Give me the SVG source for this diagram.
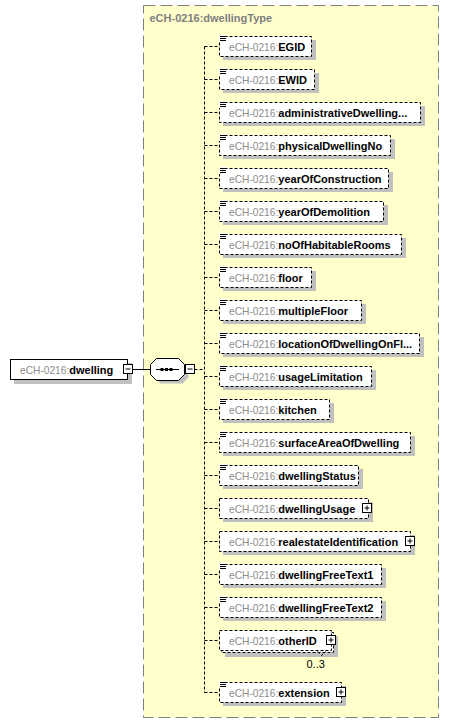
<svg xmlns="http://www.w3.org/2000/svg" width="449" height="724" viewBox="0 0 449 724">
<style>
.frame{fill:#FFFFCC;stroke:#808080;stroke-width:1;stroke-dasharray:12,5}
.title{font-family:"Liberation Sans",Arial,sans-serif;font-size:11px;font-weight:bold;fill:#808080}
.box{fill:#FFFFFF;stroke:#000000;stroke-width:1;stroke-dasharray:3,2}
.sbox{fill:#FFFFFF;stroke:#000000;stroke-width:1}
.sh{fill:#C0C0C0}
.t{font-family:"Liberation Sans",Arial,sans-serif;font-size:11px}
.p{font-size:10.2px;fill:#8C8C8C}
.n{font-weight:bold;fill:#000000}
.c{fill:none;stroke:#000000;stroke-width:1;stroke-dasharray:3,2}
.cs{fill:none;stroke:#000000;stroke-width:1}
.ic{stroke:#000000;stroke-width:1}
.pm{fill:#FFFFFF;stroke:#000000;stroke-width:1}
.occ{font-family:"Liberation Sans",Arial,sans-serif;font-size:11px;fill:#000000}
</style>
<defs>
<g id="icon"><rect x="219" y="-1" width="8" height="7" fill="#FFFFFF"/><path class="ic" d="M220,0.5H227M220,2.5H226M220,4.5H226"/></g>
<g id="plus"><rect class="pm" x="0.5" y="0.5" width="9" height="9"/><path class="ic" d="M2.5,5H7.5M5,2.5V7.5"/></g>
<g id="minus"><rect class="pm" x="0.5" y="0.5" width="9" height="9"/><path class="ic" d="M2.5,5H7.5"/></g>
</defs>

<g id="dwellingType">
<rect class="frame" x="143.5" y="5.5" width="295" height="712"/>
<text class="title" x="149.5" y="22">eCH-0216:dwellingType</text>
</g>

<g id="connectors">
<path class="cs" d="M132,369.5H150.5"/>
<path class="c" d="M194.5,369.5H204.5"/>
<path class="c" d="M204.5,46.5V692.5"/>
<path class="c" d="M204.5,46.5H219M204.5,79.5H219M204.5,112.5H219M204.5,145.5H219M204.5,178.5H219M204.5,211.5H219M204.5,244.5H219M204.5,277.5H219M204.5,310.5H219M204.5,343.5H219M204.5,376.5H219M204.5,409.5H219M204.5,442.5H219M204.5,475.5H219M204.5,508.5H219M204.5,541.5H219M204.5,574.5H219M204.5,607.5H219M204.5,640.5H219M204.5,692.5H219"/>
</g>

<g id="dwelling">
<rect class="sh" x="14" y="363" width="118" height="21"/>
<rect class="sbox" x="10.5" y="359.5" width="117" height="20"/>
<text class="t" x="20" y="373.5"><tspan class="p" font-size="10.5px">eCH-0216:</tspan><tspan class="n">dwelling</tspan></text>
<use href="#minus" x="123" y="364"/>
</g>

<g id="sequence">
<polygon class="sh" points="160.5,362.5 182.5,362.5 188.5,368.5 188.5,377.5 182.5,383.5 160.5,383.5 154.5,377.5 154.5,368.5"/>
<polygon class="sbox" points="156.5,358.5 178.5,358.5 184.5,364.5 184.5,374.5 178.5,380.5 156.5,380.5 150.5,374.5 150.5,364.5"/>
<path class="cs" d="M156,369.5H179"/>
<rect x="160.5" y="368" width="3" height="3" fill="#000"/>
<rect x="165" y="368" width="3" height="3" fill="#000"/>
<rect x="169.5" y="368" width="3" height="3" fill="#000"/>
<use href="#minus" x="185" y="364"/>
</g>

<g id="EGID">
<rect class="sh" x="223" y="40" width="93" height="20"/>
<rect class="box" x="219.5" y="36.5" width="92" height="20"/>
<use href="#icon" y="36"/>
<text class="t" x="229" y="50.5"><tspan class="p">eCH-0216:</tspan><tspan class="n">EGID</tspan></text>
</g>
<g id="EWID">
<rect class="sh" x="223" y="73" width="96" height="20"/>
<rect class="box" x="219.5" y="69.5" width="95" height="20"/>
<use href="#icon" y="69"/>
<text class="t" x="229" y="83.5"><tspan class="p">eCH-0216:</tspan><tspan class="n">EWID</tspan></text>
</g>
<g id="administrativeDwellingNo">
<rect class="sh" x="223" y="106" width="202" height="20"/>
<rect class="box" x="219.5" y="102.5" width="201" height="20"/>
<use href="#icon" y="102"/>
<text class="t" x="229" y="116.5"><tspan class="p">eCH-0216:</tspan><tspan class="n">administrativeDwelling...</tspan></text>
</g>
<g id="physicalDwellingNo">
<rect class="sh" x="223" y="139" width="172" height="20"/>
<rect class="box" x="219.5" y="135.5" width="171" height="20"/>
<use href="#icon" y="135"/>
<text class="t" x="229" y="149.5"><tspan class="p">eCH-0216:</tspan><tspan class="n">physicalDwellingNo</tspan></text>
</g>
<g id="yearOfConstruction">
<rect class="sh" x="223" y="172" width="170" height="20"/>
<rect class="box" x="219.5" y="168.5" width="169" height="20"/>
<use href="#icon" y="168"/>
<text class="t" x="229" y="182.5"><tspan class="p">eCH-0216:</tspan><tspan class="n">yearOfConstruction</tspan></text>
</g>
<g id="yearOfDemolition">
<rect class="sh" x="223" y="205" width="165" height="20"/>
<rect class="box" x="219.5" y="201.5" width="164" height="20"/>
<use href="#icon" y="201"/>
<text class="t" x="229" y="215.5"><tspan class="p">eCH-0216:</tspan><tspan class="n">yearOfDemolition</tspan></text>
</g>
<g id="noOfHabitableRooms">
<rect class="sh" x="223" y="238" width="183" height="20"/>
<rect class="box" x="219.5" y="234.5" width="182" height="20"/>
<use href="#icon" y="234"/>
<text class="t" x="229" y="248.5"><tspan class="p">eCH-0216:</tspan><tspan class="n">noOfHabitableRooms</tspan></text>
</g>
<g id="floor">
<rect class="sh" x="223" y="271" width="93" height="20"/>
<rect class="box" x="219.5" y="267.5" width="92" height="20"/>
<use href="#icon" y="267"/>
<text class="t" x="229" y="281.5"><tspan class="p">eCH-0216:</tspan><tspan class="n">floor</tspan></text>
</g>
<g id="multipleFloor">
<rect class="sh" x="223" y="304" width="143" height="20"/>
<rect class="box" x="219.5" y="300.5" width="142" height="20"/>
<use href="#icon" y="300"/>
<text class="t" x="229" y="314.5"><tspan class="p">eCH-0216:</tspan><tspan class="n">multipleFloor</tspan></text>
</g>
<g id="locationOfDwellingOnFloor">
<rect class="sh" x="223" y="337" width="201" height="20"/>
<rect class="box" x="219.5" y="333.5" width="200" height="20"/>
<use href="#icon" y="333"/>
<text class="t" x="229" y="347.5"><tspan class="p">eCH-0216:</tspan><tspan class="n">locationOfDwellingOnFl...</tspan></text>
</g>
<g id="usageLimitation">
<rect class="sh" x="223" y="370" width="153" height="20"/>
<rect class="box" x="219.5" y="366.5" width="152" height="20"/>
<use href="#icon" y="366"/>
<text class="t" x="229" y="380.5"><tspan class="p">eCH-0216:</tspan><tspan class="n">usageLimitation</tspan></text>
</g>
<g id="kitchen">
<rect class="sh" x="223" y="403" width="111" height="20"/>
<rect class="box" x="219.5" y="399.5" width="110" height="20"/>
<use href="#icon" y="399"/>
<text class="t" x="229" y="413.5"><tspan class="p">eCH-0216:</tspan><tspan class="n">kitchen</tspan></text>
</g>
<g id="surfaceAreaOfDwelling">
<rect class="sh" x="223" y="436" width="192" height="20"/>
<rect class="box" x="219.5" y="432.5" width="191" height="20"/>
<use href="#icon" y="432"/>
<text class="t" x="229" y="446.5"><tspan class="p">eCH-0216:</tspan><tspan class="n">surfaceAreaOfDwelling</tspan></text>
</g>
<g id="dwellingStatus">
<rect class="sh" x="223" y="469" width="140" height="20"/>
<rect class="box" x="219.5" y="465.5" width="139" height="20"/>
<use href="#icon" y="465"/>
<text class="t" x="229" y="479.5"><tspan class="p">eCH-0216:</tspan><tspan class="n">dwellingStatus</tspan></text>
</g>
<g id="dwellingUsage">
<rect class="sh" x="223" y="502" width="150" height="20"/>
<rect class="box" x="219.5" y="498.5" width="149" height="20"/>
<text class="t" x="229" y="512.5"><tspan class="p">eCH-0216:</tspan><tspan class="n">dwellingUsage</tspan></text>
<use href="#plus" x="362" y="503"/>
</g>
<g id="realestateIdentification">
<rect class="sh" x="223" y="535" width="192" height="20"/>
<rect class="box" x="219.5" y="531.5" width="191" height="20"/>
<text class="t" x="229" y="545.5"><tspan class="p">eCH-0216:</tspan><tspan class="n">realestateIdentification</tspan></text>
<use href="#plus" x="405" y="536"/>
</g>
<g id="dwellingFreeText1">
<rect class="sh" x="223" y="568" width="163" height="20"/>
<rect class="box" x="219.5" y="564.5" width="162" height="20"/>
<use href="#icon" y="564"/>
<text class="t" x="229" y="578.5"><tspan class="p">eCH-0216:</tspan><tspan class="n">dwellingFreeText1</tspan></text>
</g>
<g id="dwellingFreeText2">
<rect class="sh" x="223" y="601" width="163" height="20"/>
<rect class="box" x="219.5" y="597.5" width="162" height="20"/>
<use href="#icon" y="597"/>
<text class="t" x="229" y="611.5"><tspan class="p">eCH-0216:</tspan><tspan class="n">dwellingFreeText2</tspan></text>
</g>
<g id="otherID">
<rect class="sh" x="225" y="636" width="113" height="21"/>
<rect class="box" x="221.5" y="632.5" width="112" height="20"/>
<rect class="box" x="219.5" y="630.5" width="112" height="20"/>
<path class="c" d="M317.5,651.5L321.5,655.5L325.5,651.5"/>
<text class="t" x="229" y="644.5"><tspan class="p">eCH-0216:</tspan><tspan class="n">otherID</tspan></text>
<use href="#plus" x="326" y="635"/>
<text class="occ" x="306.5" y="667.5">0..3</text>
</g>
<g id="extension">
<rect class="sh" x="223" y="686" width="123" height="20"/>
<rect class="box" x="219.5" y="682.5" width="122" height="20"/>
<use href="#icon" y="682"/>
<text class="t" x="229" y="696.5"><tspan class="p">eCH-0216:</tspan><tspan class="n">extension</tspan></text>
<use href="#plus" x="336" y="687"/>
</g>
</svg>
